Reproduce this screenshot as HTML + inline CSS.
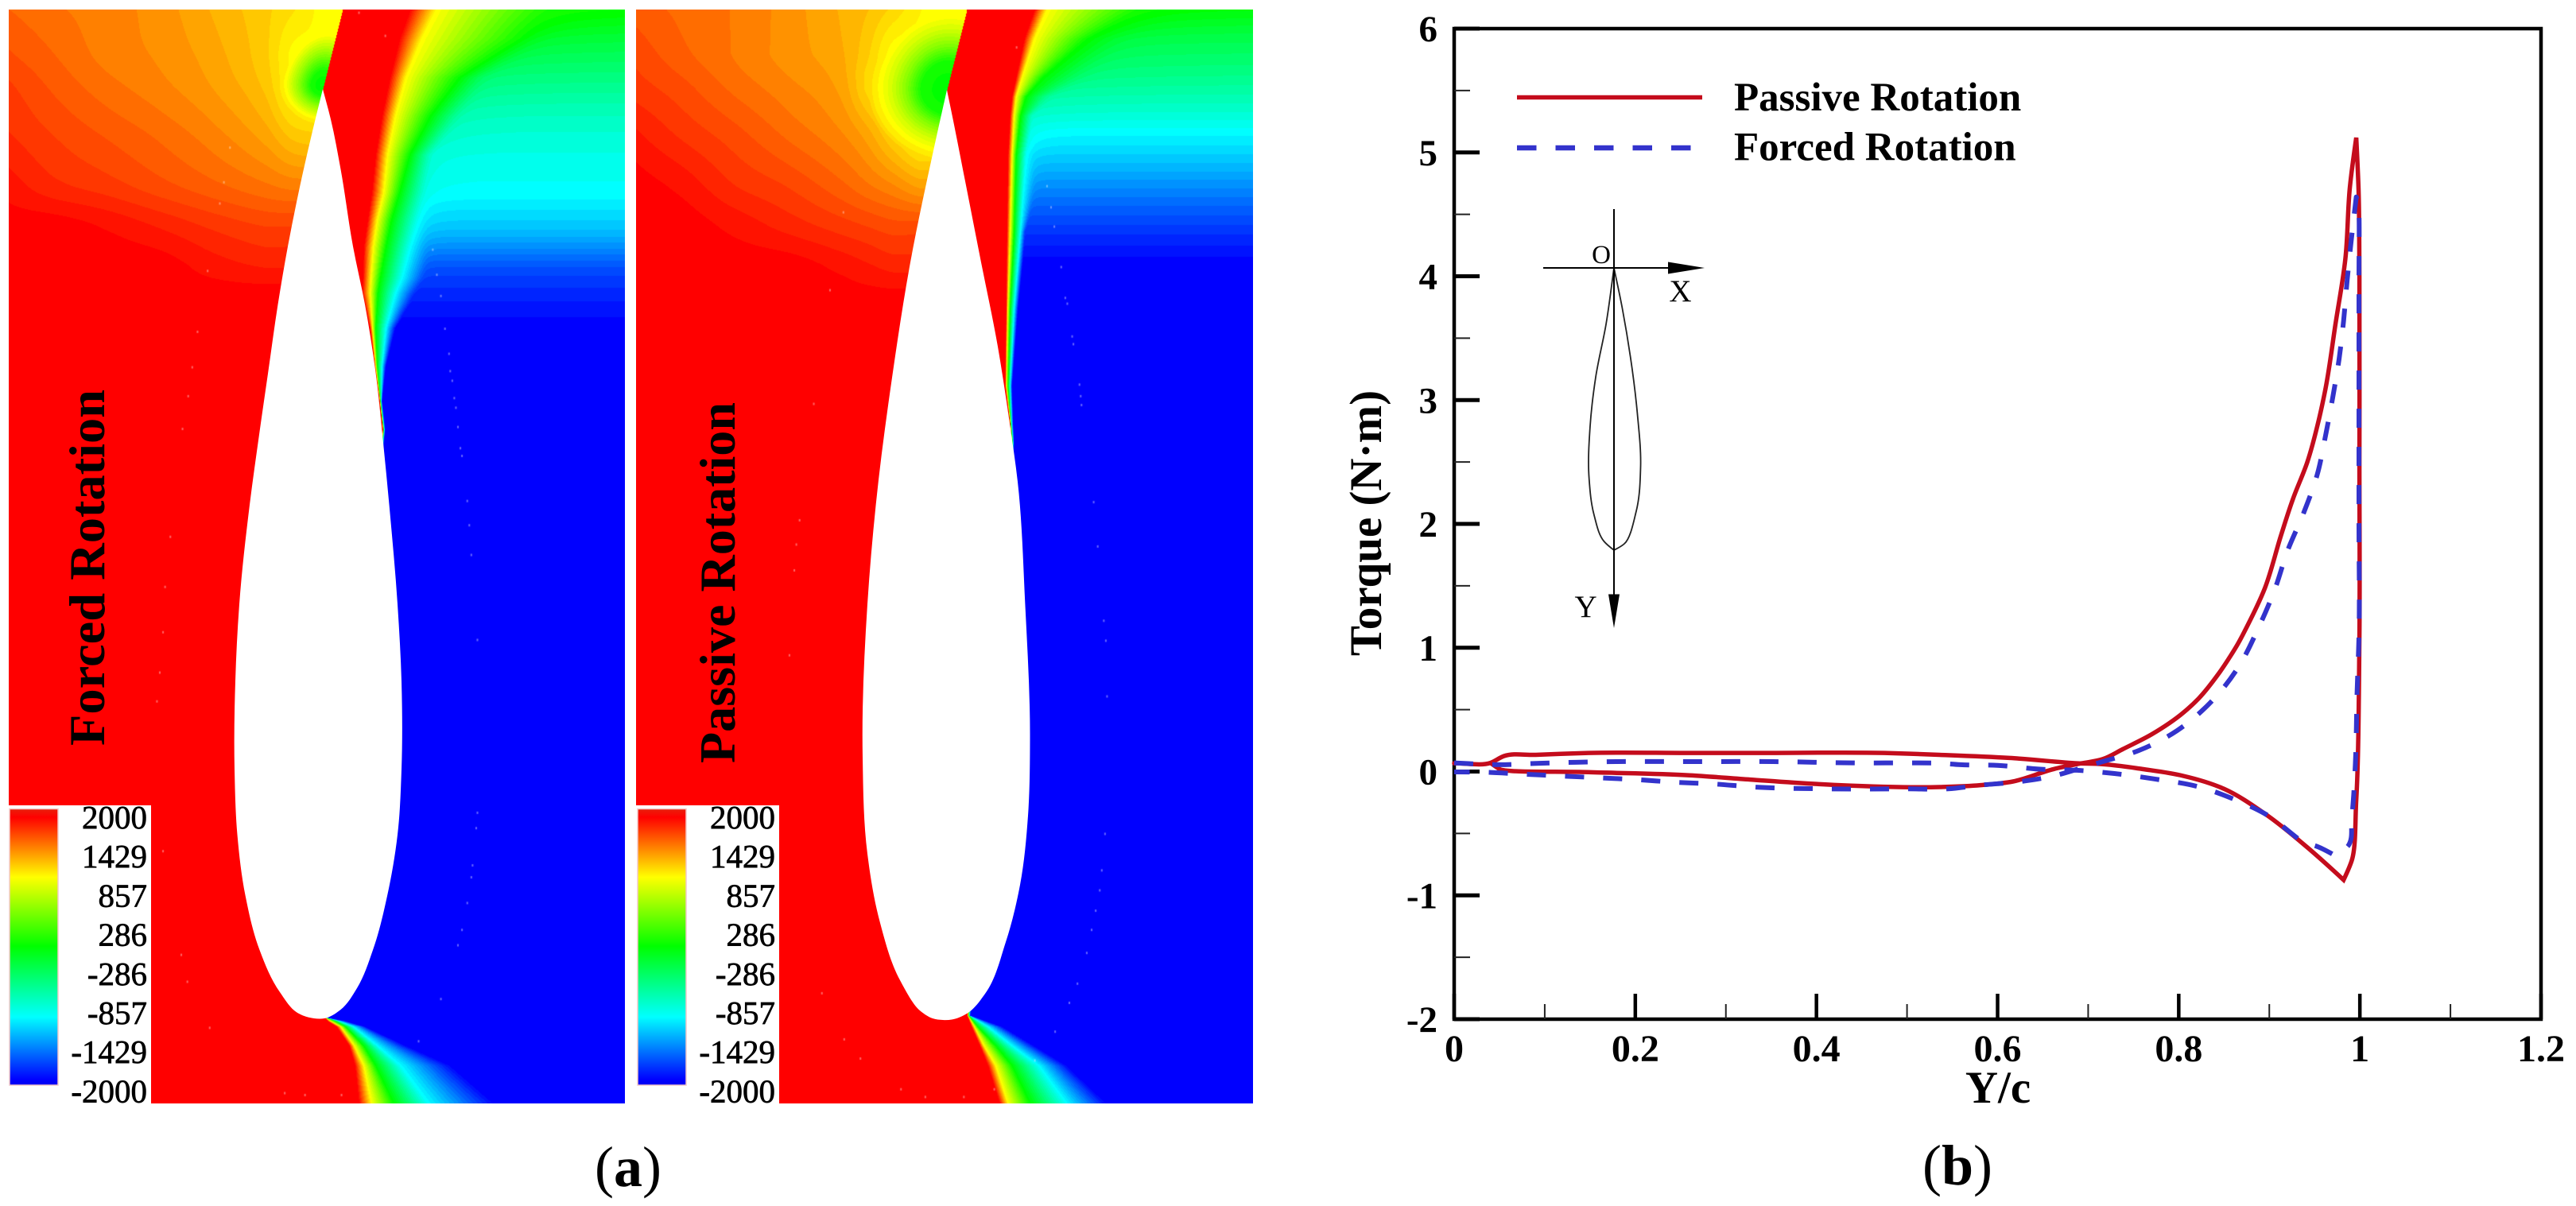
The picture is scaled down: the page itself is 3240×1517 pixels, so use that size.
<!DOCTYPE html>
<html lang="en">
<head>
<meta charset="utf-8">
<title>Pressure contours and torque curves</title>
<style>
html,body{margin:0;padding:0;background:#fff;}
#stage{position:relative;width:3240px;height:1517px;overflow:hidden;background:#fff;}
canvas{position:absolute;display:block;}
svg{position:absolute;left:0;top:0;}
text{font-family:"Liberation Serif",serif;fill:#000;}
</style>
</head>
<body>
<div id="stage">
  <canvas id="fieldA" width="775" height="1376" style="left:11px;top:12px"></canvas>
  <canvas id="fieldB" width="776" height="1376" style="left:800px;top:12px"></canvas>
  <svg id="overlay" width="3240" height="1517" viewBox="0 0 3240 1517" xmlns="http://www.w3.org/2000/svg">
    <defs>
      <linearGradient id="ramp" x1="0" y1="0" x2="0" y2="1">
        <stop offset="0" stop-color="#e8200c"/>
        <stop offset="0.03" stop-color="#ff0000"/>
        <stop offset="0.247" stop-color="#ffff00"/>
        <stop offset="0.497" stop-color="#00ff00"/>
        <stop offset="0.753" stop-color="#00ffff"/>
        <stop offset="0.98" stop-color="#0000ff"/>
        <stop offset="1" stop-color="#0000f0"/>
      </linearGradient>
    </defs>
    <g id="panelA"></g>
    <g id="panelB"></g>
    <g id="chart"></g>
    <text x="790" y="1492" font-size="72" text-anchor="middle">(<tspan font-weight="bold">a</tspan>)</text>
    <text x="2462" y="1490" font-size="72" text-anchor="middle">(<tspan font-weight="bold">b</tspan>)</text>
  </svg>
</div>
<script>
/* ---------- torque chart data (Y/c, Torque) ---------- */
var passiveYc = [0,0.04,0.055,0.09,0.148,0.26,0.342,0.475,0.536,0.613,0.688,0.716,0.76,0.805,0.85,0.895,0.94,0.982,0.991,0.996,0.9995,0.9995,0.9995,0.9985,0.996,0.989,0.984,0.973,0.962,0.953,0.942,0.926,0.913,0.895,0.87,0.866,0.845,0.822,0.805,0.77,0.738,0.716,0.693,0.662,0.617,0.581,0.536,0.425,0.327,0.26,0.148,0.05,0.04];
var passiveTorque = [0.067,0.07,0.125,0.135,0.15,0.15,0.15,0.15,0.135,0.11,0.067,0.06,0.02,-0.035,-0.14,-0.34,-0.6,-0.875,-0.72,-0.23,1.09,2.5,4.0,4.7,5.12,4.72,4.14,3.61,3.09,2.79,2.5,2.2,1.91,1.48,1.095,1.04,0.8,0.59,0.475,0.3,0.18,0.1,0.067,0.02,-0.08,-0.11,-0.125,-0.11,-0.065,-0.03,-0.005,0.02,0.07];
var forcedYc = [0,0.05,0.094,0.18,0.266,0.352,0.44,0.537,0.559,0.6,0.645,0.688,0.729,0.773,0.823,0.863,0.895,0.94,0.951,0.973,0.987,0.991,0.995,0.997,0.999,0.999,0.999,0.999,0.999,0.998,0.996,0.99,0.986,0.982,0.977,0.97,0.962,0.953,0.938,0.92,0.906,0.888,0.866,0.834,0.798,0.756,0.716,0.693,0.662,0.626,0.581,0.545,0.501,0.416,0.331,0.286,0.246,0.201,0.159,0.116,0.074,0.036,0];
var forcedTorque = [0.07,0.055,0.067,0.08,0.08,0.08,0.07,0.067,0.055,0.05,0.02,0.01,-0.016,-0.06,-0.125,-0.23,-0.34,-0.58,-0.6,-0.68,-0.6,-0.375,0.067,0.65,1.09,2,3,4,4.5,4.6,4.64,4.26,3.97,3.64,3.33,3.02,2.71,2.4,2.09,1.78,1.47,1.16,0.845,0.55,0.33,0.17,0.08,0.03,-0.035,-0.08,-0.11,-0.14,-0.14,-0.14,-0.125,-0.1,-0.087,-0.065,-0.05,-0.035,-0.02,-0.006,-0.003];
var xMajorTicks = [0,0.2,0.4,0.6,0.8,1,1.2];
var xMajorLabels = ["0","0.2","0.4","0.6","0.8","1","1.2"];
var xMinorTicks = [0.1,0.3,0.5,0.7,0.9,1.1];
var yMajorTicks = [-2,-1,0,1,2,3,4,5,6];
var yMajorLabels = ["-2","-1","0","1","2","3","4","5","6"];
var yMinorTicks = [-1.5,-0.5,0.5,1.5,2.5,3.5,4.5,5.5];
var colorbarLabels = ["2000","1429","857","286","-286","-857","-1429","-2000"];

/* ---------- contour field readings ---------- */
var rowsA  = [12,48,97,145,194,242,276,310,349,368,412,460,504,540,1279,1284,1291,1315,1340,1388];
var redA   = [515,502,490,480,472,467,462,457,456,455,465,471,477,481,408,412,423,439,446,451];
var yelA   = [548,530,510,497,487,482,474,469,466,465,468,472,477.5,481.5,408,415,428,445,457,467];
var grnA   = [689,653,577,541,515,502,492,485,478,475,472,474,478,482,408,421,434,457,472,495];
var cyaA   = [1000,760,640,590,545,535,525,515,505,497,485,480,479,483,408,426,444,474,503,538];
var bluA   = [1300,900,760,700,640,600,580,560,540,525,497,485,480,484,408,434,459,510,566,622];
var farRowsA = [12,48,97,145,194,242,262,291,339,388,412];
var farValsA = [0,-0.23,-0.5,-0.75,-0.9,-1,-1.1,-1.27,-1.7,-1.93,-2];
/* left-of-foil field: green channel of the orange/red zone on a coarse grid */
var gridColsA = [11,67,133,200,267,333,367,400];
var gridRowsA = [12,67,110,167,233,283,333,367];
var gridGreenA = [
  [100,115,128,145,175,205,225,250],
  [80,100,125,140,165,205,250,250],
  [60,85,110,130,155,195,250,250],
  [45,65,85,105,130,165,200,210],
  [18,40,55,75,95,115,125,125],
  [0,0,12,30,50,65,65,65],
  [0,0,0,0,18,30,30,30],
  [0,0,0,0,0,0,0,0]
];
var blobDistA = [0,14,30,45,60];
var blobValA  = [-0.05,0.1,0.6,1,1.2];

var rowsB  = [12,48,97,121,145,194,291,388,485,533,557,1277,1291,1315,1340,1388];
var redB   = [1300.6,1288,1277.6,1272.5,1270,1267.4,1266,1265,1264,1270,1272,1216,1221.5,1232,1242,1257];
var yelB   = [1316,1300.6,1285,1277.6,1275,1272.5,1270,1267,1265,1270.5,1272.5,1217,1225,1237,1252,1267.5];
var grnB   = [1433,1367,1311,1290,1283,1277.6,1275,1270,1267.5,1271,1273,1218,1229,1252,1272.5,1295.5];
var cyaB   = [1700,1500,1400,1331,1300,1290,1283,1275,1270,1272,1274,1219,1242,1272.5,1306,1341];
var bluB   = [2000,1800,1600,1500,1400,1330,1290,1280,1272.5,1274,1275,1220,1260,1300,1341,1392];
var farRowsB = [12,48,97,145,165,194,242,291,330];
var farValsB = [-0.05,-0.3,-0.55,-0.85,-1,-1.18,-1.5,-1.8,-2];
var gridColsB = [800,857,923,990,1057,1090,1123,1157,1190];
var gridRowsB = [12,67,110,167,233,283,333,373];
var gridGreenB = [
  [90,105,120,145,175,190,215,245,255],
  [70,95,120,145,170,205,255,255,255],
  [55,75,105,130,160,215,255,255,255],
  [25,50,75,105,135,165,215,255,255],
  [0,15,45,65,95,115,135,160,160],
  [0,0,15,35,55,65,75,75,75],
  [0,0,0,0,15,25,35,35,35],
  [0,0,0,0,0,0,0,0,0]
];
var blobDistB = [0,34,51,68,84,100];
var blobValB  = [-0.05,0.1,0.5,0.8,1,1.15];

/* contour speckle dots */
var specklesATop = [[1065,645],[1075,710],[1085,765],[1095,850],[1105,915],[1108,960],[1113,985],[1118,1030],[1122,1055],[1127,1105],[1133,1160],[1137,1180],[1150,1297],[1155,1360],[1160,1437],[565,380],[550,470],[540,525],[510,700],[485,858],[472,950],[462,1025],[448,1110],[418,1390],[405,1520],[883,30],[948,90]];
var specklesABot = [[400,70],[392,175],[385,250],[400,640],[445,910],[460,980],[515,1100],[700,1270],[750,1275],[840,1275],[1175,540],[1172,580],[1163,677],[1160,708],[1150,775],[1137,845],[1127,885],[1085,1025],[1030,1135],[1175,90]];
var specklesBTop = [[1070,480],[1080,535],[1088,585],[1105,690],[1115,770],[1120,785],[1132,870],[1135,890],[1150,995],[1153,1025],[1155,1048],[1185,1300],[1195,1415],[568,548],[535,750],[495,1045],[460,1347],[452,1410],[447,1477],[995,120]];
var specklesBBot = [[1210,40],[1215,92],[1218,237],[1213,595],[1205,690],[1200,742],[1190,795],[1180,845],[1168,905],[1145,985],[1125,1035],[1090,1110],[1040,1185],[570,1130],[610,1180],[710,1260],[770,1280],[865,1280],[940,1260],[435,130],[515,1010]];

var airfoilA = [[406,112],[393,165],[377.5,233],[362,310],[349.5,383],[337,470],[326.5,543],[314,635],[301,760],[296,857],[295,968],[298.5,1050],[308.7,1127],[326.5,1195],[352,1248],[375,1274.5],[395,1281],[408,1281],[428.5,1270],[449,1243],[469,1195],[487,1127],[500,1050],[505,968],[505,857],[500,760],[490,640],[482,557],[472,465],[459,383],[444,310],[428.5,213],[416,150],[406,112]];
var airfoilB = [[1191,113],[1173,194],[1145,330],[1122,475],[1101.6,635],[1091,760],[1085,953],[1091,1074],[1107,1161],[1132,1233],[1158,1272],[1173,1281],[1186,1283],[1197,1282.5],[1216,1275],[1239,1250],[1265,1185],[1283,1113],[1293,1026],[1295.5,929],[1289.4,760],[1280,606],[1270,533],[1255,436],[1234,330],[1214,228],[1198.6,150],[1191,113]];
var insetFoil = [[2030,337],[2020,408],[2007,474.5],[2000,536],[1998.7,602],[2005,648],[2017.5,681],[2030,692],[2043,684],[2058,643],[2063.5,587],[2059.4,520],[2050.7,449],[2040.5,388],[2030,337]];

/* ---------- helpers ---------- */
var NS = "http://www.w3.org/2000/svg";
function mk(parent, tag, attrs, txt){
  var el = document.createElementNS(NS, tag);
  for (var k in attrs) el.setAttribute(k, attrs[k]);
  if (txt !== undefined) el.textContent = txt;
  parent.appendChild(el);
  return el;
}
/* unit tangent at p1, or [0,0] when the path turns sharply there */
function nodeTangent(p0, p1, p2){
  var ax = p1[0]-p0[0], ay = p1[1]-p0[1], bx = p2[0]-p1[0], by = p2[1]-p1[1];
  var la = Math.hypot(ax, ay), lb = Math.hypot(bx, by);
  if (la < 0.001) return lb ? [bx/lb, by/lb] : [0,0];
  if (lb < 0.001) return [ax/la, ay/la];
  if ((ax*bx+ay*by)/(la*lb) < 0.5) return [0,0];
  var tx = ax/la*lb + bx/lb*la, ty = ay/la*lb + by/lb*la, n = Math.hypot(tx, ty) || 1;
  return [tx/n, ty/n];
}
function smoothPath(p){
  var d = "M" + p[0][0].toFixed(1) + " " + p[0][1].toFixed(1);
  for (var i = 0; i < p.length - 1; i++){
    var p0 = p[Math.max(i-1,0)], p1 = p[i], p2 = p[i+1], p3 = p[Math.min(i+2,p.length-1)];
    var seg = Math.hypot(p2[0]-p1[0], p2[1]-p1[1]);
    var prev = Math.hypot(p1[0]-p0[0], p1[1]-p0[1]) || seg;
    var next = Math.hypot(p3[0]-p2[0], p3[1]-p2[1]) || seg;
    var s1 = Math.min(seg, 2*prev)/3, s2 = Math.min(seg, 2*next)/3;
    var t1 = nodeTangent(p0, p1, p2), t2 = nodeTangent(p1, p2, p3);
    d += "C" + (p1[0]+t1[0]*s1).toFixed(1) + " " + (p1[1]+t1[1]*s1).toFixed(1) + " " +
         (p2[0]-t2[0]*s2).toFixed(1) + " " + (p2[1]-t2[1]*s2).toFixed(1) + " " + p2[0].toFixed(1) + " " + p2[1].toFixed(1);
  }
  return d;
}
function interp(xs, ys, x){
  if (x <= xs[0]) return ys[0];
  for (var i = 1; i < xs.length; i++){
    if (x <= xs[i]) return ys[i-1] + (ys[i]-ys[i-1])*(x-xs[i-1])/(xs[i]-xs[i-1]);
  }
  return ys[ys.length-1];
}
function cubic(xs, ys, x){
  var n = xs.length;
  if (x <= xs[0]) return ys[0];
  if (x >= xs[n-1]) return ys[n-1];
  var i = 0;
  while (x > xs[i+1]) i++;
  var h = xs[i+1]-xs[i], t = (x-xs[i])/h;
  var m0 = i > 0 ? (ys[i+1]-ys[i-1])/(xs[i+1]-xs[i-1]) : (ys[i+1]-ys[i])/h;
  var m1 = i < n-2 ? (ys[i+2]-ys[i])/(xs[i+2]-xs[i]) : (ys[i+1]-ys[i])/h;
  var t2 = t*t, t3 = t2*t;
  var v = (2*t3-3*t2+1)*ys[i] + (t3-2*t2+t)*h*m0 + (-2*t3+3*t2)*ys[i+1] + (t3-t2)*h*m1;
  var lo = Math.min(ys[i],ys[i+1]), hi = Math.max(ys[i],ys[i+1]);
  return Math.max(lo, Math.min(hi, v));
}
function rampColor(v){
  v = Math.round(v*14)/14;
  if (v >= 1) return [255, Math.round(255*(2-v)), 0];
  if (v >= 0) return [Math.round(255*v), 255, 0];
  if (v >= -1) return [0, 255, Math.round(-255*v)];
  return [0, Math.round(255*(2+v)), 255];
}
function renderField(id, ox, oy, cfg){
  var cv = document.getElementById(id), ctx = cv.getContext("2d");
  var W = cv.width, H = cv.height, img = ctx.createImageData(W, H), d = img.data, i = 0;
  var columns = cfg.gridCols.map(function(_, ci){ return cfg.gridGreen.map(function(r){ return r[ci]; }); });
  for (var py = 0; py < H; py++){
    var y = py + oy;
    var c = [interp(cfg.rows,cfg.red,y),interp(cfg.rows,cfg.yel,y),interp(cfg.rows,cfg.grn,y),interp(cfg.rows,cfg.cya,y),interp(cfg.rows,cfg.blu,y)];
    var far = cubic(cfg.farRows,cfg.farVals,y);
    var split = y < cfg.tip[1] ? cfg.top[0] + (cfg.tip[0]-cfg.top[0])*(y-cfg.top[1])/(cfg.tip[1]-cfg.top[1]) : cfg.tip[0];
    var rowGreen = columns.map(function(col){ return cubic(cfg.gridRows, col, y); });
    for (var px = 0; px < W; px++){
      var x = px + ox, v;
      if (x < split){
        v = 2 - cubic(cfg.gridCols, rowGreen, x)/255;
        var bx = x-cfg.blobCenter[0], by = y-cfg.blobCenter[1];
        var along = bx*0.25 - by*0.97, normal = bx*0.97 + by*0.25;
        along *= along > 0 ? cfg.blobUp : cfg.blobDown;
        var dist = Math.sqrt(along*along+normal*normal);
        if (dist < cfg.blobDist[cfg.blobDist.length-1]) v = Math.min(v, interp(cfg.blobDist, cfg.blobVal, dist));
      } else {
        var g;
        if (x <= c[0]) g = 2;
        else if (x >= c[4]) g = -2;
        else if (x < c[1]) g = 2-(x-c[0])/Math.max(c[1]-c[0],0.01);
        else if (x < c[2]) g = 1-(x-c[1])/Math.max(c[2]-c[1],0.01);
        else if (x < c[3]) g = -(x-c[2])/Math.max(c[3]-c[2],0.01);
        else g = -1-(x-c[3])/Math.max(c[4]-c[3],0.01);
        var k = 0.04*Math.min(1, g+2), diff = g-far;
        v = (g+far+Math.sqrt(diff*diff+k))/2;
      }
      var col = rampColor(v);
      d[i++] = col[0]; d[i++] = col[1]; d[i++] = col[2]; d[i++] = 255;
    }
  }
  ctx.putImageData(img, 0, 0);
  ctx.fillStyle = "rgba(255,255,255,0.4)";
  cfg.speckTop.forEach(function(s){
    ctx.fillRect(cfg.zoomX + s[0]/1.96 - ox, s[1]/2.063 - oy, 2, 3);
  });
  cfg.speckBot.forEach(function(s){
    ctx.fillRect(cfg.zoomX + s[0]/1.96 - ox, 760 + s[1]/2.07 - oy, 2, 3);
  });
}
renderField("fieldA", 11, 12, {rows:rowsA,red:redA,yel:yelA,grn:grnA,cya:cyaA,blu:bluA,farRows:farRowsA,farVals:farValsA,gridCols:gridColsA,gridRows:gridRowsA,gridGreen:gridGreenA,blobCenter:[404,107],blobUp:0.7,blobDown:1.1,blobDist:blobDistA,blobVal:blobValA,tip:[406,112],top:[431,12],speckTop:specklesATop,speckBot:specklesABot,zoomX:0});
renderField("fieldB", 800, 12, {rows:rowsB,red:redB,yel:yelB,grn:grnB,cya:cyaB,blu:bluB,farRows:farRowsB,farVals:farValsB,gridCols:gridColsB,gridRows:gridRowsB,gridGreen:gridGreenB,blobCenter:[1191,113],blobUp:0.9,blobDown:1.1,blobDist:blobDistB,blobVal:blobValB,tip:[1191,113],top:[1216,12],speckTop:specklesBTop,speckBot:specklesBBot,zoomX:770});

/* ---------- contour panel overlays ---------- */
function panelOverlay(groupId, foil, boxX, boxW, barX, barW, labelX, title, titleBase, titleStart, titleLen, titleSize){
  var g = document.getElementById(groupId);
  var foilEl = mk(g, "path", {d: smoothPath(foil), fill:"#fff"});
  
  
  var box = mk(g, "rect", {x:boxX, y:1013, width:boxW, height:375, fill:"#fff"});
  
  
  var bar = mk(g, "rect", {x:barX, y:1017.5, width:barW, height:347.5, fill:"url(#ramp)", stroke:"#f3c8c8", "stroke-width":1.5});
  
  
  colorbarLabels.forEach(function(lbl, i){
    var t = mk(g, "text", {x:labelX, y:1028 + i*49.2 + 14, "font-size":41, "text-anchor":"end", stroke:"#000", "stroke-width":0.7}, lbl);
    
    
  });
  var tt = mk(g, "text", {transform:"translate("+titleBase+" "+titleStart+") rotate(-90)", "font-size":titleSize, "font-weight":"bold", textLength:titleLen, lengthAdjust:"spacingAndGlyphs"}, title);
  
  
}
panelOverlay("panelA", airfoilA, 11, 179, 12, 61, 185, "Forced Rotation", 131, 938, 448, 64);
panelOverlay("panelB", airfoilB, 800, 180, 802, 61, 975, "Passive Rotation", 924, 960, 454, 64);

/* ---------- torque chart ---------- */
var chart = document.getElementById("chart");
var plotLeft = 1829, plotRight = 3196, plotTop = 36, plotBottom = 1282;
function xScale(v){ return plotLeft + (plotRight-plotLeft)*v/1.2; }
function yScale(v){ return plotBottom - (plotBottom-plotTop)*(v+2)/8; }

var frame = mk(chart, "rect", {x:plotLeft, y:plotTop, width:plotRight-plotLeft, height:plotBottom-plotTop, fill:"none", stroke:"#000", "stroke-width":4.5});



yMajorTicks.forEach(function(v, i){
  var tk = mk(chart, "line", {x1:plotLeft, x2:plotLeft+32, y1:yScale(v), y2:yScale(v), stroke:"#000", "stroke-width":5});
  
  
  var lb = mk(chart, "text", {x:1808, y:yScale(v)+16, "font-size":47, "font-weight":"bold", "text-anchor":"end"}, yMajorLabels[i]);
  
  
});
yMinorTicks.forEach(function(v){
  var tk = mk(chart, "line", {x1:plotLeft, x2:plotLeft+20, y1:yScale(v), y2:yScale(v), stroke:"#222", "stroke-width":2});
  
  
});
xMajorTicks.forEach(function(v, i){
  var tk = mk(chart, "line", {x1:xScale(v), x2:xScale(v), y1:plotBottom, y2:plotBottom-32, stroke:"#000", "stroke-width":4.5});
  
  
  var lb = mk(chart, "text", {x:xScale(v), y:1335, "font-size":48, "font-weight":"bold", "text-anchor":"middle"}, xMajorLabels[i]);
  
  
});
xMinorTicks.forEach(function(v){
  var tk = mk(chart, "line", {x1:xScale(v), x2:xScale(v), y1:plotBottom, y2:plotBottom-19, stroke:"#222", "stroke-width":2});
  
  
});
function seriesPath(xs, ys){
  return smoothPath(xs.map(function(x, i){ return [xScale(x), yScale(ys[i])]; }));
}
var passiveLine = mk(chart, "path", {d:seriesPath(passiveYc, passiveTorque), fill:"none", stroke:"#c40c1c", "stroke-width":5.5, "stroke-linejoin":"miter", "stroke-linecap":"round"});


var forcedLine = mk(chart, "path", {d:seriesPath(forcedYc, forcedTorque), fill:"none", stroke:"#3333cc", "stroke-width":6, "stroke-dasharray":"24 24", "stroke-linejoin":"round"});



var xTitle = mk(chart, "text", {x:2513, y:1387, "font-size":57, "font-weight":"bold", "text-anchor":"middle"}, "Y/c");


var yTitle = mk(chart, "text", {transform:"translate(1737 658) rotate(-90)", "font-size":57, "font-weight":"bold", "text-anchor":"middle"}, "Torque (N\u00B7m)");



/* legend */
var lgLine1 = mk(chart, "line", {x1:1908, x2:2141, y1:122.5, y2:122.5, stroke:"#c40c1c", "stroke-width":5.5});


var lgText1 = mk(chart, "text", {x:2181, y:139, "font-size":51, "font-weight":"bold"}, "Passive Rotation");


var lgLine2 = mk(chart, "line", {x1:1908, x2:2127, y1:186, y2:186, stroke:"#3333cc", "stroke-width":6.5, "stroke-dasharray":"24.5 24"});


var lgText2 = mk(chart, "text", {x:2181, y:201.5, "font-size":51, "font-weight":"bold"}, "Forced Rotation");



/* inset coordinate diagram */
var inset = mk(chart, "g", {});


var insetPath = mk(inset, "path", {d:smoothPath(insetFoil), fill:"none", stroke:"#222", "stroke-width":1.8});


var axX = mk(inset, "line", {x1:1941, x2:2110, y1:337, y2:337, stroke:"#000", "stroke-width":2});


var axY = mk(inset, "line", {x1:2030, x2:2030, y1:263, y2:760, stroke:"#000", "stroke-width":2});


var arX = mk(inset, "polygon", {points:"2098,329.5 2144,337 2098,344.5", fill:"#000"});


var arY = mk(inset, "polygon", {points:"2023,747.5 2037,747.5 2030,790", fill:"#000"});


var lbO = mk(inset, "text", {x:2014, y:331, "font-size":33, "text-anchor":"middle"}, "O");


var lbX = mk(inset, "text", {x:2113.5, y:379, "font-size":39, "text-anchor":"middle"}, "X");


var lbY = mk(inset, "text", {x:1994.6, y:776, "font-size":39, "text-anchor":"middle"}, "Y");


</script>
</body>
</html>
